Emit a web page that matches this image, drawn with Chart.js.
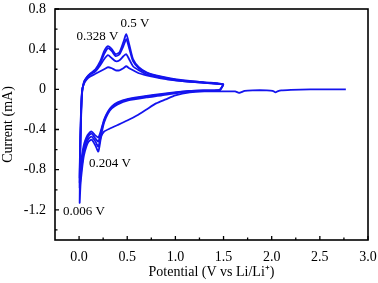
<!DOCTYPE html>
<html>
<head>
<meta charset="utf-8">
<script src="https://cdn.jsdelivr.net/npm/chart.js@4"></script>
<style>
  html, body { margin: 0; padding: 0; background: #fff; }
  canvas { display: block; }
</style>
</head>
<body>
<canvas id="cvChart" width="378" height="283"></canvas>
<script>
// first cycle, swept down from the open circuit potential then back up
let firstCycleV = [2.77, 2.6, 2.4, 2.2, 2.1, 2.06, 2.04, 2.01, 1.95, 1.8, 1.72, 1.68, 1.66, 1.62, 1.55, 1.45, 1.3, 1.15, 1.0, 0.9, 0.8, 0.7, 0.6, 0.5, 0.4, 0.32, 0.26, 0.23, 0.2, 0.17, 0.13, 0.1, 0.075, 0.05, 0.03, 0.015, 0.006,
                   0.01, 0.018, 0.03, 0.05, 0.08, 0.12, 0.17, 0.22, 0.26, 0.3, 0.34, 0.38, 0.42, 0.46, 0.49, 0.52, 0.56, 0.62, 0.7, 0.8, 0.95, 1.1, 1.3, 1.45, 1.5],
    firstCycleI = [0.0, 0.0, 0.0, -0.005, -0.01, -0.02, -0.03, -0.015, -0.01, -0.01, -0.015, -0.03, -0.035, -0.02, -0.02, -0.02, -0.02, -0.03, -0.06, -0.1, -0.14, -0.2, -0.26, -0.31, -0.355, -0.39, -0.42, -0.47, -0.62, -0.56, -0.5, -0.52, -0.57, -0.66, -0.8, -0.95, -1.13,
                   -0.8, -0.4, -0.05, 0.07, 0.12, 0.16, 0.2, 0.28, 0.38, 0.43, 0.40, 0.35, 0.37, 0.47, 0.55, 0.45, 0.3, 0.22, 0.17, 0.14, 0.11, 0.09, 0.07, 0.06, 0.05],

    // later cycles, 1.5 V -> 0.006 V -> 1.5 V
    laterCycleV = [1.5, 1.46, 1.3, 1.1, 0.86, 0.7, 0.51, 0.4, 0.34, 0.3, 0.26, 0.23, 0.2, 0.17, 0.13, 0.1, 0.075, 0.05, 0.03, 0.015, 0.006,
                   0.01, 0.018, 0.03, 0.05, 0.08, 0.12, 0.17, 0.22, 0.26, 0.3, 0.34, 0.38, 0.42, 0.46, 0.49, 0.52, 0.56, 0.62, 0.7, 0.8, 0.95, 1.1, 1.3, 1.45, 1.5],
    secondCycleI = [0.05, -0.01, -0.015, -0.025, -0.06, -0.08, -0.11, -0.15, -0.19, -0.24, -0.33, -0.45, -0.57, -0.52, -0.47, -0.49, -0.54, -0.62, -0.75, -0.88, -0.98,
                    -0.7, -0.35, -0.04, 0.07, 0.12, 0.155, 0.19, 0.26, 0.35, 0.41, 0.38, 0.33, 0.35, 0.43, 0.5, 0.41, 0.28, 0.21, 0.165, 0.135, 0.105, 0.085, 0.07, 0.055, 0.05],
    thirdCycleI = [0.05, -0.005, -0.01, -0.02, -0.05, -0.07, -0.1, -0.14, -0.18, -0.23, -0.31, -0.42, -0.52, -0.49, -0.44, -0.46, -0.51, -0.58, -0.7, -0.83, -0.93,
                   -0.65, -0.3, -0.03, 0.06, 0.11, 0.15, 0.18, 0.24, 0.3, 0.34, 0.31, 0.28, 0.29, 0.33, 0.35, 0.3, 0.23, 0.19, 0.15, 0.125, 0.1, 0.08, 0.065, 0.055, 0.05],
    fourthCycleI = [0.05, -0.005, -0.01, -0.02, -0.045, -0.065, -0.095, -0.13, -0.17, -0.22, -0.3, -0.4, -0.48, -0.46, -0.42, -0.44, -0.48, -0.55, -0.66, -0.78, -0.88,
                    -0.6, -0.28, -0.02, 0.055, 0.1, 0.13, 0.155, 0.18, 0.2, 0.22, 0.21, 0.19, 0.19, 0.21, 0.23, 0.21, 0.19, 0.16, 0.14, 0.12, 0.095, 0.08, 0.065, 0.055, 0.05],

    xTicks = [0, 0.5, 1.0, 1.5, 2.0, 2.5, 3.0],
    xTickLabels = ['0.0', '0.5', '1.0', '1.5', '2.0', '2.5', '3.0'],
    xMinorTicks = [0.25, 0.75, 1.25, 1.75, 2.25, 2.75],
    yTicks = [-1.2, -0.8, -0.4, 0, 0.4, 0.8],
    yTickLabels = ['-1.2', '-0.8', '-0.4', '0', '0.4', '0.8'],
    yMinorTicks = [-1.4, -1.0, -0.6, -0.2, 0.2, 0.6],

    peakLabels = ['0.328 V', '0.5 V', '0.204 V', '0.006 V'];

// where the peak labels sit, in axis units
const peakLabelSpots = [[0.19, 0.53], [0.58, 0.65], [0.32, -0.735], [0.05, -1.22]];

const lineColor = '#1414ee',
    serif = "'Liberation Serif', 'Times New Roman', serif";

function toPoints(vs, is) {
    return vs.map((v, k) => ({ x: v, y: is[k] }));
}

function cycleDataset(vs, is) {
    return {
        data: toPoints(vs, is),
        showLine: true,
        borderColor: lineColor,
        backgroundColor: lineColor,
        borderWidth: 1.8,
        pointRadius: 0,
        tension: 0.2
    };
}

// frame, inward ticks and the peak notes
const framePlugin = {
    id: 'frame',
    afterDatasetsDraw(chart) {
        const { ctx, chartArea: a, scales: { x, y } } = chart;
        ctx.save();
        ctx.strokeStyle = '#000';
        ctx.lineWidth = 1.6;
        ctx.strokeRect(a.left, a.top, a.right - a.left, a.bottom - a.top);

        ctx.lineWidth = 1.3;
        ctx.beginPath();
        xTicks.forEach(v => {
            const px = x.getPixelForValue(v);
            ctx.moveTo(px, a.bottom); ctx.lineTo(px, a.bottom - 4);
        });
        xMinorTicks.forEach(v => {
            const px = x.getPixelForValue(v);
            ctx.moveTo(px, a.bottom); ctx.lineTo(px, a.bottom - 2.5);
        });
        yTicks.forEach(v => {
            const py = y.getPixelForValue(v);
            ctx.moveTo(a.left, py); ctx.lineTo(a.left + 4, py);
        });
        yMinorTicks.forEach(v => {
            const py = y.getPixelForValue(v);
            ctx.moveTo(a.left, py); ctx.lineTo(a.left + 2.5, py);
        });
        ctx.stroke();

        ctx.fillStyle = '#000';
        ctx.font = '13px ' + serif;
        ctx.textAlign = 'center';
        ctx.textBaseline = 'middle';
        peakLabels.forEach((text, k) => {
            const [v, i] = peakLabelSpots[k];
            ctx.fillText(text, x.getPixelForValue(v), y.getPixelForValue(i));
        });
        ctx.restore();
    }
};

new Chart(document.getElementById('cvChart').getContext('2d'), {
    type: 'scatter',
    data: {
        datasets: [
            cycleDataset(firstCycleV, firstCycleI),
            cycleDataset(laterCycleV, secondCycleI),
            cycleDataset(laterCycleV, thirdCycleI),
            cycleDataset(laterCycleV, fourthCycleI)
        ]
    },
    options: {
        responsive: false,
        devicePixelRatio: 1,
        animation: false,
        layout: { padding: { top: 9, right: 10, left: 0, bottom: 0 } },
        plugins: {
            legend: { display: false },
            tooltip: { enabled: false }
        },
        scales: {
            x: {
                type: 'linear',
                min: -0.25,
                max: 3.0,
                grid: { display: false, drawTicks: false },
                border: { display: false },
                afterBuildTicks: scale => { scale.ticks = xTicks.map(v => ({ value: v })); },
                afterFit: scale => {
                    scale.height = 43;
                    scale.paddingLeft = 0;
                    scale.paddingRight = 0;
                },
                ticks: {
                    autoSkip: false,
                    maxRotation: 0,
                    padding: 9,
                    color: '#000',
                    font: { family: serif, size: 14 },
                    callback: v => xTickLabels[xTicks.indexOf(v)]
                },
                title: {
                    display: true,
                    text: 'Potential (V vs Li/Li\u207A)',
                    color: '#000',
                    font: { family: serif, size: 14 },
                    padding: { top: 0, bottom: 2.5 }
                }
            },
            y: {
                type: 'linear',
                min: -1.5,
                max: 0.8,
                grid: { display: false, drawTicks: false },
                border: { display: false },
                afterBuildTicks: scale => { scale.ticks = yTicks.map(v => ({ value: v })); },
                afterFit: scale => {
                    scale.width = 55;
                    scale.paddingTop = 0;
                    scale.paddingBottom = 0;
                },
                ticks: {
                    autoSkip: false,
                    padding: 9,
                    color: '#000',
                    font: { family: serif, size: 14 },
                    callback: v => yTickLabels[yTicks.indexOf(v)]
                },
                title: {
                    display: true,
                    text: 'Current (mA)',
                    color: '#000',
                    font: { family: serif, size: 14 },
                    padding: { top: 0, bottom: 0 }
                }
            }
        }
    },
    plugins: [framePlugin]
});
</script>
</body>
</html>
